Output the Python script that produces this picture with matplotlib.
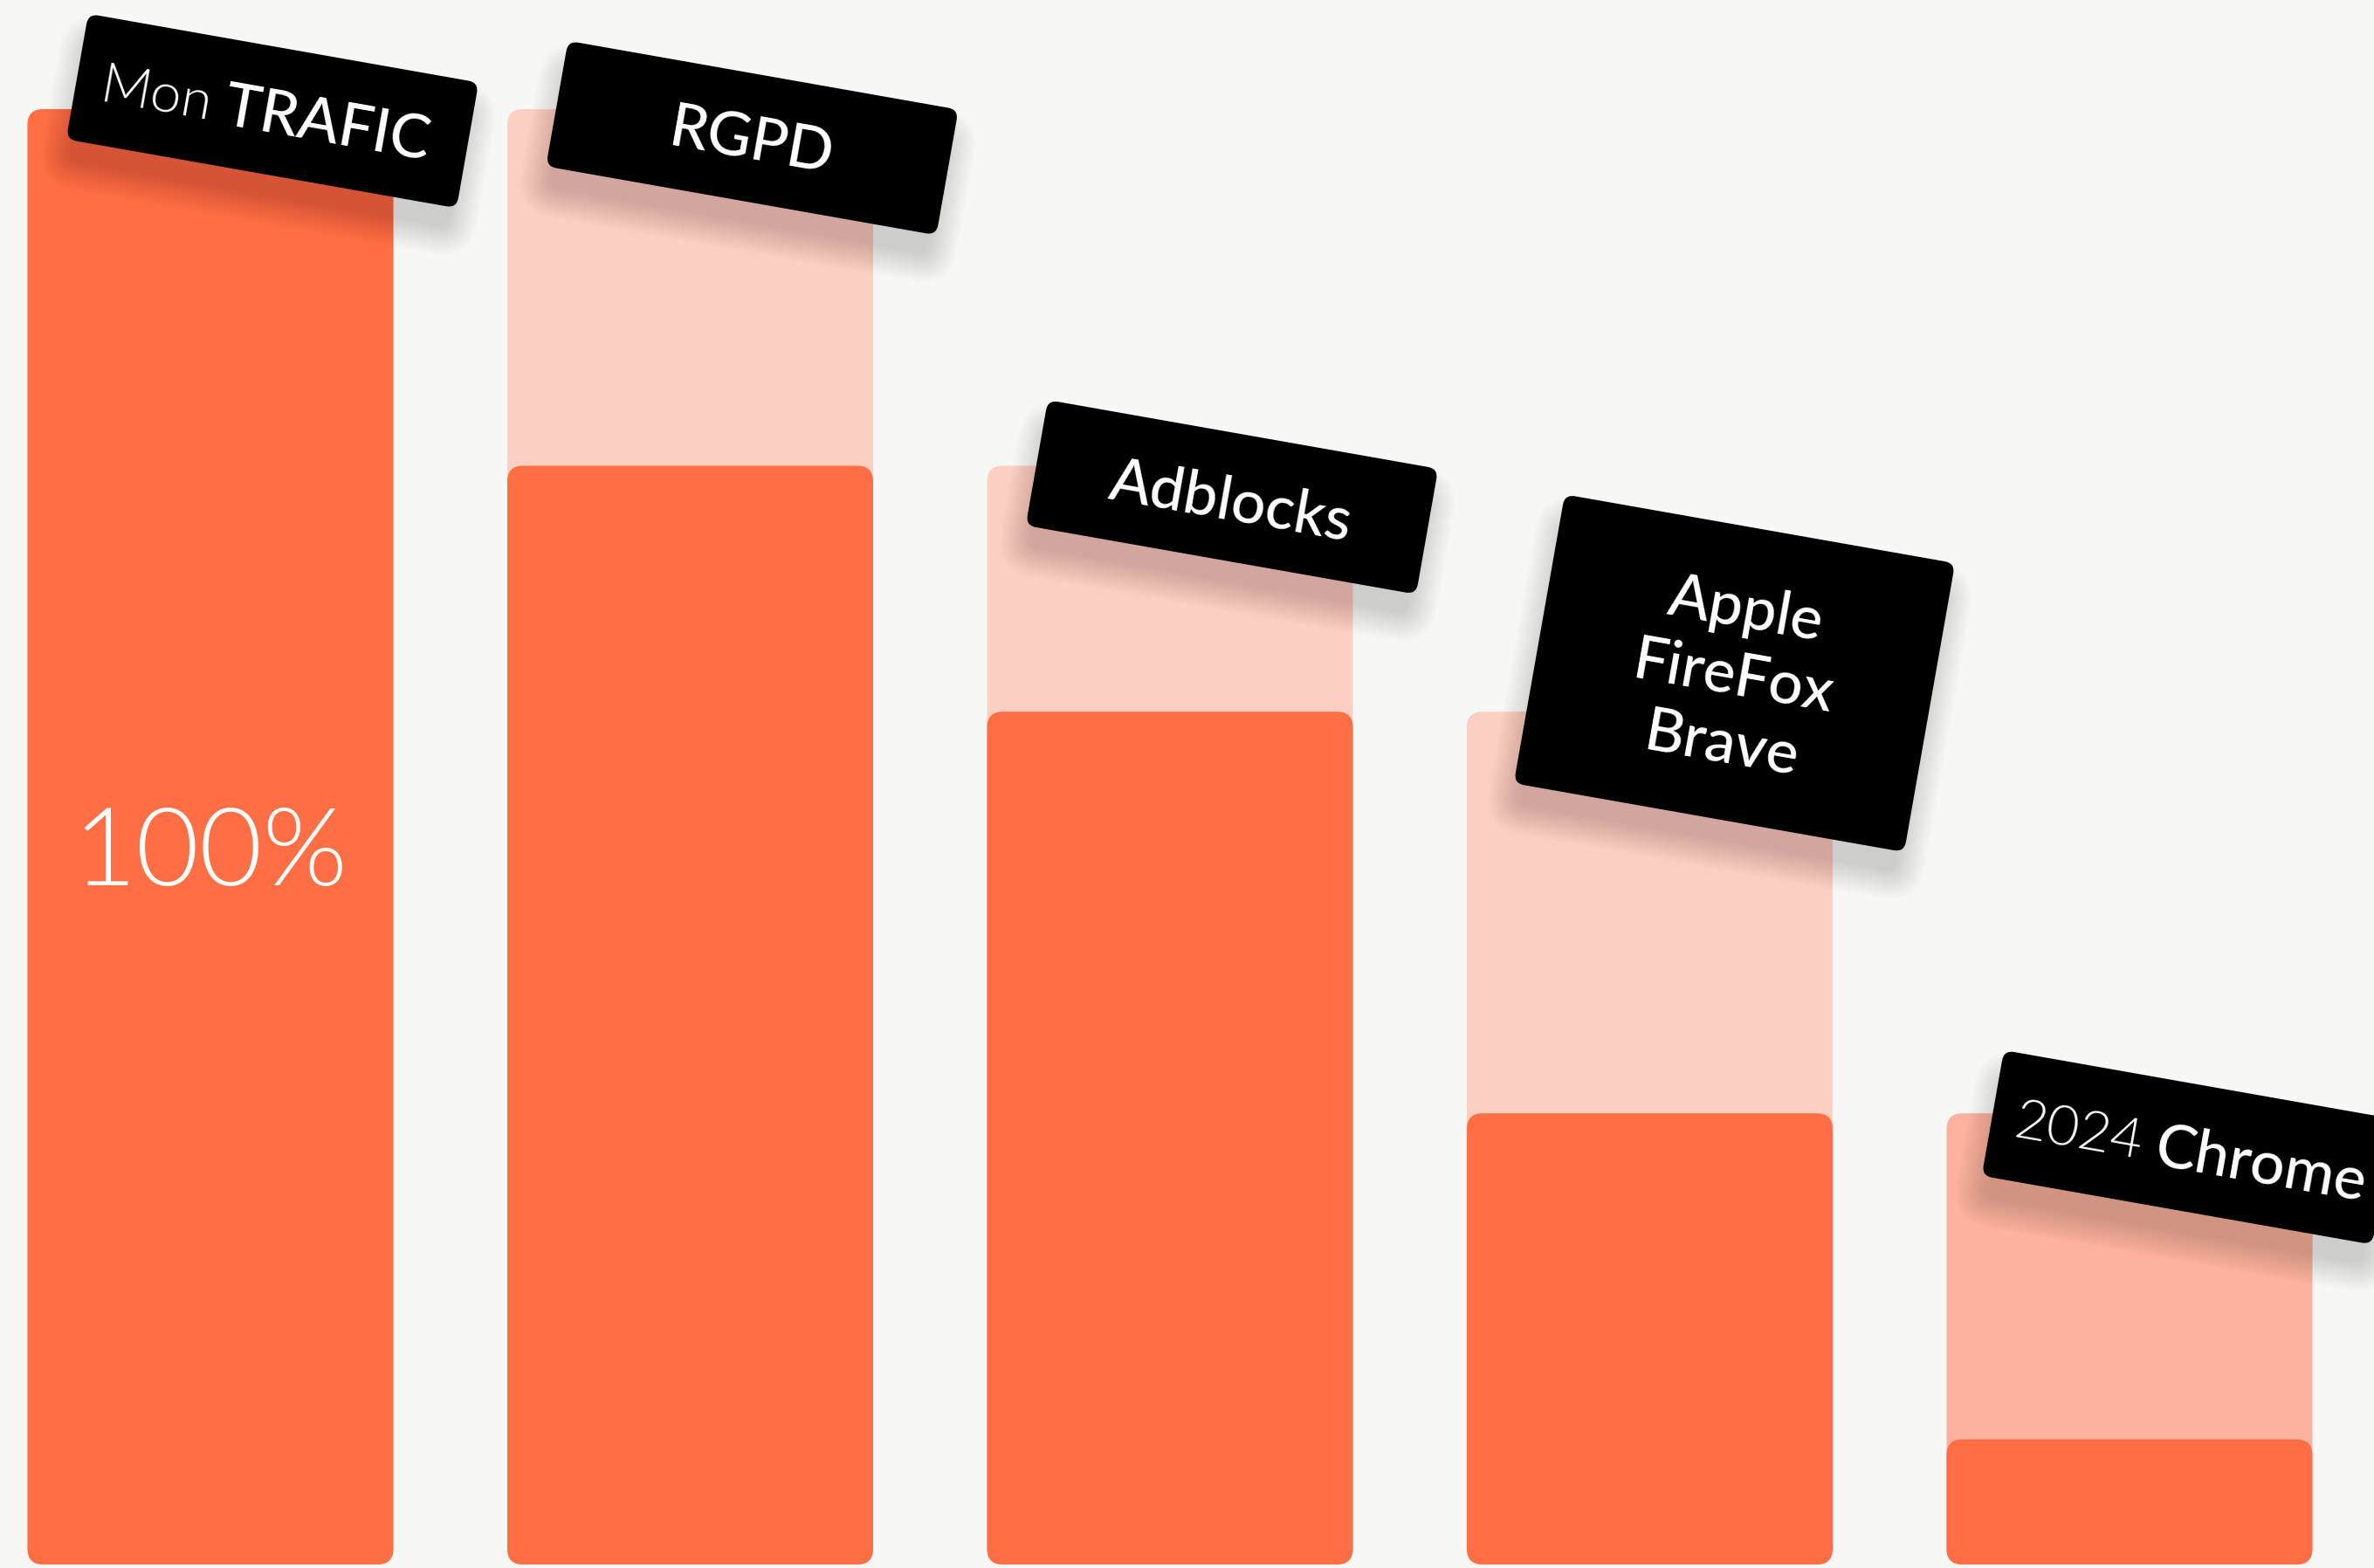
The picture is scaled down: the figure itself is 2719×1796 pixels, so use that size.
import matplotlib
matplotlib.use("Agg")
import matplotlib.pyplot as plt
import matplotlib.transforms as mtransforms
from matplotlib.patches import FancyBboxPatch
import numpy as np

# funnel data (share of traffic still measured, %)
categories = ["Mon TRAFIC", "RGPD", "Adblocks", "Apple FireFox Brave", "2024 Chrome"]
before_values = [100, 100, 75.5, 58.6, 31.0]
after_values = [100, 75.5, 58.6, 31.0, 8.6]
label_light = ["Mon", "", "", "", "2024"]
label_bold = ["TRAFIC", "RGPD", "Adblocks", "Apple\nFireFox\nBrave", "Chrome"]
share_label = "100%"

_bg = "#f7f7f6"
_dark = "#ff6f43"
_light = ["#fccfc3", "#fccfc3", "#fccfc3", "#fccfc3", "#fbb29e"]
_font = ["Lato", "DejaVu Sans"]

_fig = plt.figure(figsize=(27.19, 17.96), dpi=100, facecolor=_bg)
_ax = _fig.add_axes([0, 0, 1, 1])
_ax.set_facecolor(_bg)
_ax.axis("off")
_ax.set_xlim(-0.4386, 4.5096)
_ax.set_ylim(-0.24, 107.5)

# pixel size of one data unit, to keep the corners round
_p0 = _ax.transData.transform((0, 0))
_p1 = _ax.transData.transform((1, 1))
_sx = _p1[0] - _p0[0]
_sy = _p1[1] - _p0[1]
_aspect = _sx / _sy
_barW = 419 / _sx
_r = 18 / _sx

def _bar(i, top, color, z):
	p = FancyBboxPatch((i - _barW / 2, 0), _barW, top,
		boxstyle="round,pad=0,rounding_size=%f" % _r,
		mutation_aspect=_aspect, fc=color, ec="none", zorder=z)
	_ax.add_patch(p)

for i in range(len(categories)):
	_bar(i, before_values[i], _light[i], 1)
	_bar(i, after_values[i], _dark, 2)

_ax.text(0, after_values[0] * 0.487, share_label, ha="center", va="center",
	fontsize=90, color="white", fontweight=300, family=_font, zorder=3)

# label boxes: offset (px) from bar centre / top, box size (px), split of light/bold text
_offsets = [(71, 2), (71, 33), (71, 36), (97, -44), (67, 39)]
_heights = [146, 146, 146, 336, 146]
_splits = [-62, None, None, None, -44]
_boxW = 454
_ang = -10
_c = np.cos(np.radians(_ang))
_s = np.sin(np.radians(_ang))
_ident = mtransforms.IdentityTransform()

def _local(cx, cy, lx, ly):
	return cx + lx * _c - ly * _s, cy + lx * _s + ly * _c

for i in range(len(categories)):
	bx, by = _ax.transData.transform((i, before_values[i]))
	cx = bx + _offsets[i][0]
	cy = by - _offsets[i][1]
	h = _heights[i]
	rot = mtransforms.Affine2D().rotate_deg_around(cx, cy, _ang)
	# soft shadow
	for k in range(14):
		g = 5 * k
		sh = FancyBboxPatch((cx - _boxW / 2 - g / 2 + 6, cy - h / 2 - g / 2 - 24), _boxW + g - 12, h + g - 10,
			boxstyle="round,pad=0,rounding_size=%f" % (12 + g / 2),
			fc="black", ec="none", alpha=0.012, transform=rot, zorder=4)
		_ax.add_patch(sh)
	box = FancyBboxPatch((cx - _boxW / 2, cy - h / 2), _boxW, h,
		boxstyle="round,pad=0,rounding_size=12", fc="black", ec="none",
		transform=rot, zorder=5)
	_ax.add_patch(box)
	if _splits[i] is None:
		tx, ty = _local(cx, cy, 0, -6)
		_ax.text(tx, ty, label_bold[i], transform=_ident, rotation=_ang, rotation_mode="anchor",
			ha="center", va="center", multialignment="center", linespacing=1.3,
			fontsize=50, color="white", fontweight=500, family=_font, zorder=6)
	else:
		tx, ty = _local(cx, cy, _splits[i] - 8, -6)
		_ax.text(tx, ty, label_light[i], transform=_ident, rotation=_ang, rotation_mode="anchor",
			ha="right", va="center", fontsize=46, color="white",
			fontweight=300, family=_font, zorder=6)
		tx, ty = _local(cx, cy, _splits[i] + 8, -6)
		_ax.text(tx, ty, label_bold[i], transform=_ident, rotation=_ang, rotation_mode="anchor",
			ha="left", va="center", fontsize=50, color="white", fontweight=500,
			family=_font, zorder=6)

plt.savefig("out.png", dpi=100, facecolor=_bg)
